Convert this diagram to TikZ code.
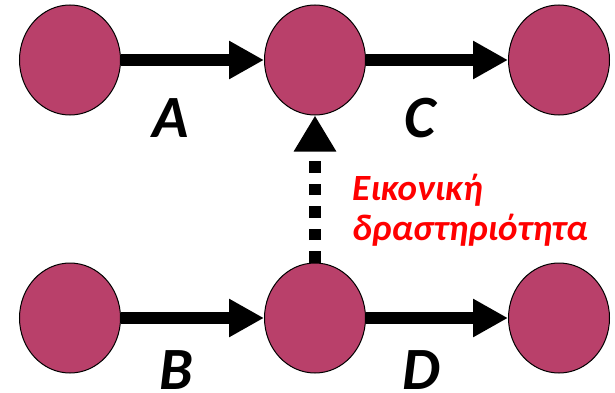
\documentclass[tikz,border=0pt]{standalone}
\usepackage{fontspec}
\setmainfont{Carlito}
\usetikzlibrary{arrows.meta,positioning,shapes.geometric}
\definecolor{evpink}{RGB}{185,64,106}
\definecolor{evred}{RGB}{255,0,0}

\tikzset{
  event/.style={ellipse, draw=black, line width=1pt, fill=evpink, minimum width=101pt, minimum height=110pt, inner sep=0pt},
  act/.style={line width=12pt, -{Triangle[length=35pt,width=36pt]}},
  dummy/.style={line width=12pt, dash pattern=on 11.5pt off 11pt, -{Triangle[length=36pt,width=40pt]}},
  actlbl/.style={font=\fontsize{60}{60}\selectfont\bfseries\itshape, inner sep=0pt, anchor=base}
}

\begin{document}
\begin{tikzpicture}[x=1pt, y=-1pt]
  \useasboundingbox (0,0) rectangle (615,393);

  %% upper chain
  \node[event] (a1) at (70,60) {};
  \node[event] (a2) at (315,60) {};
  \node[event] (a3) at (559,60) {};
  \draw[act] (a1) -- (a2);
  \draw[act] (a2) -- (a3);
  \node[actlbl] (la) at (171,137) {A};
  \node[actlbl] (lc) at (420,137) {C};

  %% lower chain
  \node[event] (b1) at (70,318) {};
  \node[event] (b2) at (315,318) {};
  \node[event] (b3) at (559,318) {};
  \draw[act] (b1) -- (b2);
  \draw[act] (b2) -- (b3);
  \node[actlbl] (lb) at (176,389) {B};
  \node[actlbl] (ld) at (421,389) {D};

  %% dummy activity
  \draw[dummy] (b2) -- (a2);
  \node[anchor=base west, align=left, inner sep=0pt, text=evred, font=\fontsize{37}{40}\selectfont\bfseries\itshape] (dtext) at (352,240) {Εικονική\\δραστηριότητα};
\end{tikzpicture}
\end{document}
